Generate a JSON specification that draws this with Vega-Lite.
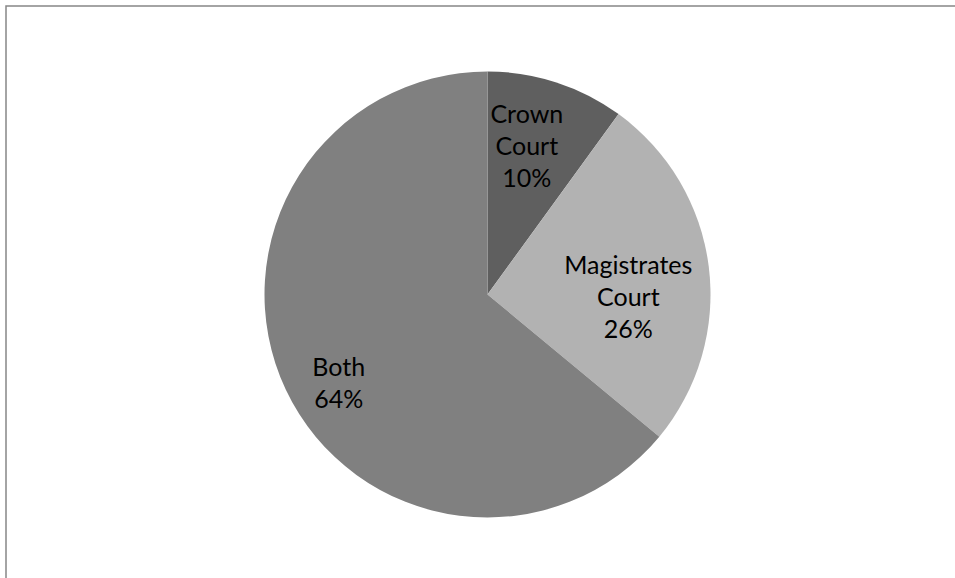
{
  "$schema": "https://vega.github.io/schema/vega-lite/v6.json",
  "width": 963,
  "height": 577,
  "autosize": "none",
  "padding": {"left": 6, "top": 6, "right": 0, "bottom": 0},
  "background": "white",
  "view": {"stroke": "#878787", "strokeWidth": 1.5},
  "data": {
    "values": [
      {"category": "Crown Court", "pct": 10, "order": 1},
      {"category": "Magistrates Court", "pct": 26, "order": 2},
      {"category": "Both", "pct": 64, "order": 3}
    ]
  },
  "transform": [
    {"calculate": "replace(datum.category, ' ', '\\n') + '\\n' + datum.pct + '%'", "as": "label"}
  ],
  "encoding": {
    "theta": {"field": "pct", "type": "quantitative", "stack": true},
    "order": {"field": "order", "type": "quantitative"}
  },
  "layer": [
    {
      "mark": {"type": "arc", "outerRadius": 223},
      "encoding": {
        "color": {
          "field": "category",
          "type": "nominal",
          "scale": {"domain": ["Crown Court", "Magistrates Court", "Both"], "range": ["#5f5f5f", "#b2b2b2", "#808080"]},
          "legend": null
        }
      }
    },
    {
      "mark": {"type": "text", "radius": 150, "dx": -7, "dy": -37, "font": "Lato", "fontSize": 25, "lineHeight": 32, "lineBreak": "\n", "align": "center", "baseline": "middle", "color": "#000"},
      "encoding": {"text": {"condition": {"test": "datum.category == 'Crown Court'", "field": "label"}, "value": ""}}
    },
    {
      "mark": {"type": "text", "radius": 150, "dx": -8, "dy": -10, "font": "Lato", "fontSize": 25, "lineHeight": 32, "lineBreak": "\n", "align": "center", "baseline": "middle", "color": "#000"},
      "encoding": {"text": {"condition": {"test": "datum.category == 'Magistrates Court'", "field": "label"}, "value": ""}}
    },
    {
      "mark": {"type": "text", "radius": 150, "dx": -13, "dy": 10, "font": "Lato", "fontSize": 25, "lineHeight": 32, "lineBreak": "\n", "align": "center", "baseline": "middle", "color": "#000"},
      "encoding": {"text": {"condition": {"test": "datum.category == 'Both'", "field": "label"}, "value": ""}}
    }
  ]
}
